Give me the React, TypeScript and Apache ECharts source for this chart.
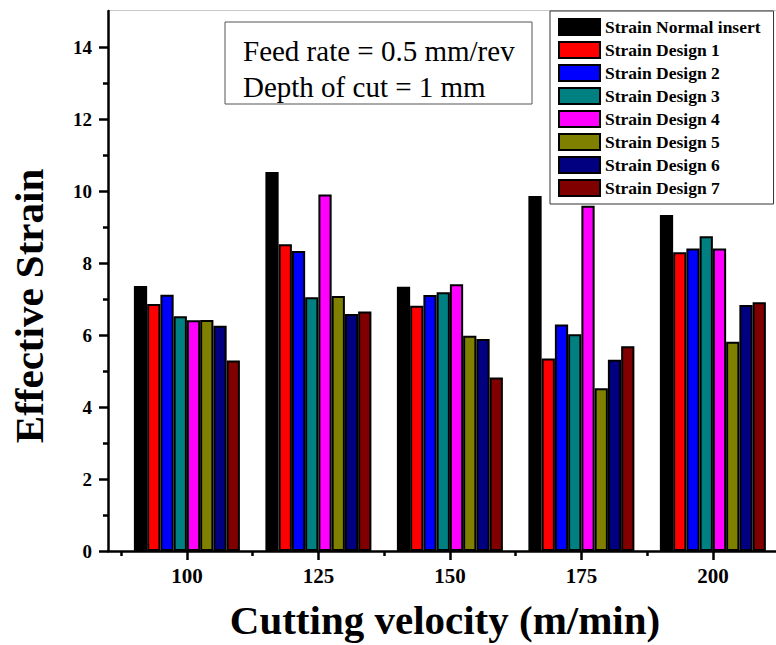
import React, { useEffect, useRef } from "react";
import * as echarts from "echarts";

const velocities = [100, 125, 150, 175, 200];
const seriesNames = [
  "Strain Normal insert",
  "Strain Design 1",
  "Strain Design 2",
  "Strain Design 3",
  "Strain Design 4",
  "Strain Design 5",
  "Strain Design 6",
  "Strain Design 7",
];
const normalInsert = [7.36, 10.53, 7.34, 9.86, 9.33];
const design1 = [6.86, 8.52, 6.81, 5.35, 8.3];
const design2 = [7.12, 8.33, 7.11, 6.29, 8.4];
const design3 = [6.52, 7.05, 7.19, 6.02, 8.74];
const design4 = [6.41, 9.9, 7.41, 9.59, 8.4];
const design5 = [6.42, 7.08, 5.98, 4.52, 5.81];
const design6 = [6.26, 6.58, 5.89, 5.31, 6.83];
const design7 = [5.29, 6.65, 4.82, 5.69, 6.91];
const seriesValues = [normalInsert, design1, design2, design3, design4, design5, design6, design7];
const colors = ["#000000", "#ff0000", "#0000ff", "#008080", "#ff00ff", "#808000", "#000080", "#800000"];
const yTickLabels = [0, 2, 4, 6, 8, 10, 12, 14];
const yMinorTicks = [1, 3, 5, 7, 9, 11, 13];
const xMinorTicks = [87.5, 112.5, 137.5, 162.5, 187.5];

const FONT = "Liberation Serif";

export default function App() {
  const ref = useRef<HTMLDivElement>(null);
  useEffect(() => {
    if (!ref.current) return;
    const chart = echarts.init(ref.current, undefined, { renderer: "svg" });
    const option: any = {
      animation: false,
      backgroundColor: "#ffffff",
      textStyle: { fontFamily: FONT },
      grid: { left: 108, right: 0, top: 11, bottom: 94, containLabel: false },
      xAxis: [
        {
          type: "value",
          min: 85,
          max: 212,
          position: "bottom",
          axisLine: { show: true, lineStyle: { color: "#000", width: 2.5 } },
          axisTick: {
            show: true,
            customValues: velocities,
            length: 9,
            lineStyle: { color: "#000", width: 2.5 },
          },
          axisLabel: {
            show: true,
            customValues: velocities,
            margin: 14,
            fontFamily: FONT,
            fontWeight: "bold",
            fontSize: 21,
            color: "#000",
          },
          splitLine: { show: false },
        },
        {
          type: "value",
          min: 85,
          max: 212,
          position: "bottom",
          axisLine: { show: false },
          axisTick: {
            show: true,
            customValues: xMinorTicks,
            length: 5,
            lineStyle: { color: "#000", width: 2.5 },
          },
          axisLabel: { show: false },
          splitLine: { show: false },
        },
      ],
      yAxis: [
        {
          type: "value",
          min: 0,
          max: 15,
          position: "left",
          axisLine: { show: true, lineStyle: { color: "#000", width: 2.5 } },
          axisTick: {
            show: true,
            customValues: yTickLabels,
            length: 9,
            lineStyle: { color: "#000", width: 2.5 },
          },
          axisLabel: {
            show: true,
            customValues: yTickLabels,
            margin: 16,
            fontFamily: FONT,
            fontWeight: "bold",
            fontSize: 19,
            color: "#000",
          },
          splitLine: { show: false },
        },
        {
          type: "value",
          min: 0,
          max: 15,
          position: "left",
          axisLine: { show: false },
          axisTick: {
            show: true,
            customValues: yMinorTicks,
            length: 5,
            lineStyle: { color: "#000", width: 2.5 },
          },
          axisLabel: { show: false },
          splitLine: { show: false },
        },
      ],
      legend: {
        orient: "vertical",
        left: 550,
        top: 11,
        padding: [7, 13, 7, 8],
        itemWidth: 41,
        itemHeight: 16,
        itemGap: 5,
        icon: "rect",
        borderColor: "#333",
        borderWidth: 1,
        backgroundColor: "#fff",
        itemStyle: { borderColor: "#000", borderWidth: 2 },
        textStyle: { fontFamily: FONT, fontWeight: "bold", fontSize: 17.5, color: "#000" },
        data: seriesNames,
      },
      series: seriesNames.map((name, i) => ({
        name,
        type: "bar",
        xAxisIndex: 0,
        yAxisIndex: 0,
        barWidth: 13.25,
        barGap: "0%",
        itemStyle: { color: colors[i], borderColor: "#000", borderWidth: 2 },
        data: velocities.map((v, j) => [v, seriesValues[i][j]]),
      })),
      graphic: [
        {
          type: "line",
          shape: { x1: 108, y1: 10.5, x2: 776, y2: 10.5 },
          style: { stroke: "#c8c8c8", lineWidth: 1 },
        },
        {
          type: "rect",
          shape: { x: 225, y: 22, width: 307, height: 82 },
          style: { fill: "#fff", stroke: "#555", lineWidth: 1 },
        },
        {
          type: "text",
          x: 243,
          y: 50.5,
          style: {
            text: "Feed rate = 0.5 mm/rev",
            font: `29px ${FONT}`,
            fill: "#000",
            verticalAlign: "middle",
            align: "left",
          },
        },
        {
          type: "text",
          x: 243,
          y: 87,
          style: {
            text: "Depth of cut = 1 mm",
            font: `29px ${FONT}`,
            fill: "#000",
            verticalAlign: "middle",
            align: "left",
          },
        },
        {
          type: "text",
          x: 29,
          y: 306,
          rotation: Math.PI / 2,
          style: {
            text: "Effective Strain",
            font: `bold 41px ${FONT}`,
            fill: "#000",
            verticalAlign: "middle",
            align: "center",
          },
        },
        {
          type: "text",
          x: 445,
          y: 620,
          style: {
            text: "Cutting velocity (m/min)",
            font: `bold 41px ${FONT}`,
            fill: "#000",
            verticalAlign: "middle",
            align: "center",
          },
        },
      ],
    };
    chart.setOption(option);
    return () => chart.dispose();
  }, []);
  return (
    <div
      ref={ref}
      style={{ position: "absolute", left: 0, top: 0, width: 776, height: 645 }}
    />
  );
}
